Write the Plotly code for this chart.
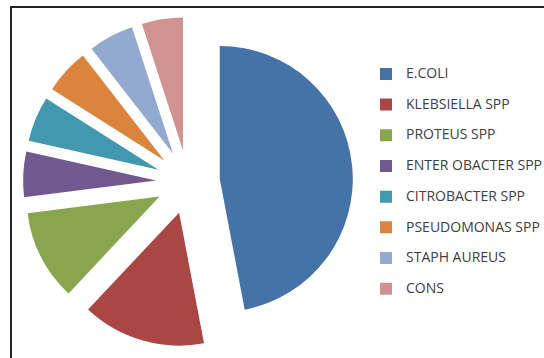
import plotly.graph_objects as go

labels = ["E.COLI", "KLEBSIELLA SPP", "PROTEUS SPP", "ENTER OBACTER SPP",
          "CITROBACTER SPP", "PSEUDOMONAS SPP", "STAPH AUREUS", "CONS"]
values = [47, 15, 11, 5.5, 5.5, 5.5, 5.5, 5]
colors = ["#4572A7", "#AA4643", "#89A54E", "#71588F",
          "#4198AF", "#DB843D", "#93A9CF", "#D19392"]

W, H = 544, 358
cx, cy, r, pull = 188, 182, 133, 0.24
half = r * (1 + pull)

legend_labels = ['<span style="font-size:14px">' + l + "</span><br> " for l in labels]

fig = go.Figure(go.Pie(
    labels=legend_labels,
    values=values,
    customdata=labels,
    hovertemplate="%{customdata}: %{value}<extra></extra>",
    marker=dict(colors=colors, line=dict(width=0)),
    sort=False,
    direction="clockwise",
    rotation=0,
    pull=[pull] * len(values),
    textinfo="none",
    domain=dict(x=[(cx - half) / W, (cx + half) / W],
                y=[1 - (cy + half) / H, 1 - (cy - half) / H]),
))

fig.update_layout(
    width=W, height=H,
    margin=dict(l=0, r=0, t=0, b=0, autoexpand=False),
    paper_bgcolor="white",
    plot_bgcolor="white",
    font=dict(family="Open Sans, sans-serif", color="#404040"),
    legend=dict(
        x=(406 - 40) / W, xanchor="left",
        y=1 - 60.5 / H, yanchor="top",
        font=dict(size=10.65, color="#404040"),
        valign="top",
        bgcolor="rgba(0,0,0,0)",
    ),
    shapes=[dict(type="rect", xref="paper", yref="paper",
                 x0=11 / W, x1=1.02, y0=-0.02, y1=1 - 7 / H,
                 line=dict(color="#222222", width=2))],
)

fig.write_html("out.html")
